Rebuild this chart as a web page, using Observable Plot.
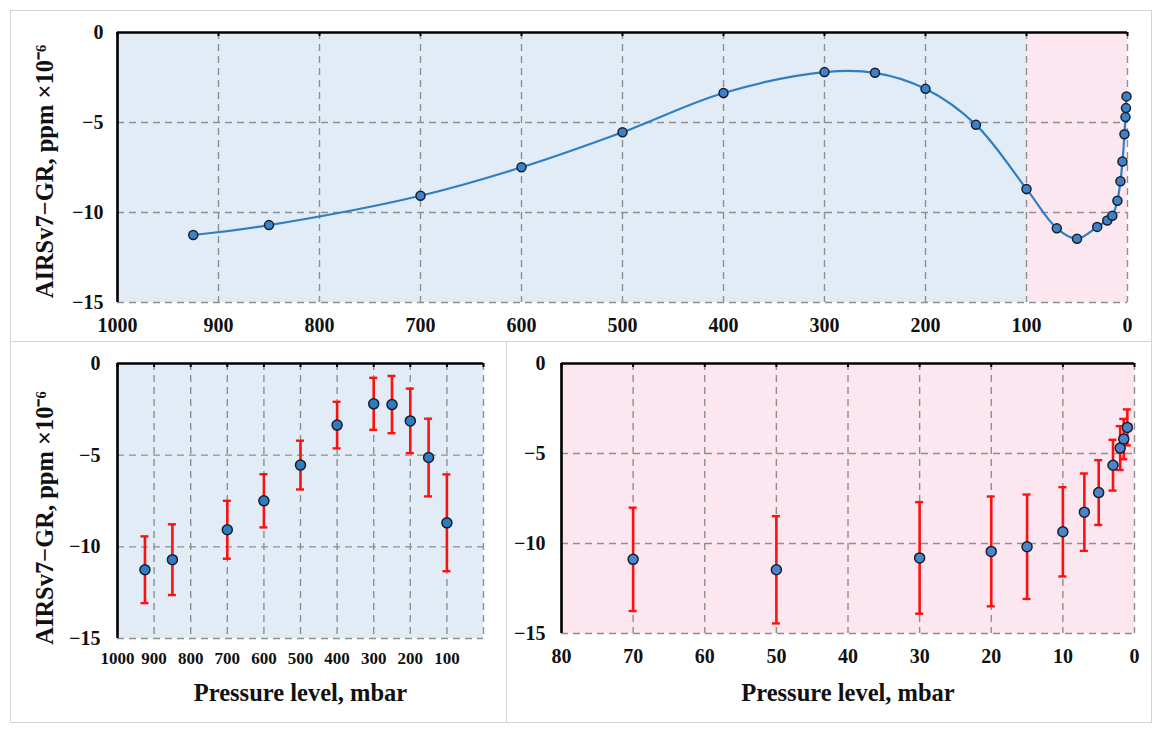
<!DOCTYPE html>
<html><head><meta charset="utf-8">
<script src="https://cdn.jsdelivr.net/npm/d3@7"></script>
<script src="https://cdn.jsdelivr.net/npm/@observablehq/plot@0.6"></script>
<style>
html,body{margin:0;padding:0;background:#fff;}
#wrap{position:relative;width:1160px;height:733px;overflow:hidden;}
#wrap svg{position:absolute;left:0;top:0;}
.box{position:absolute;border:1px solid #d4d4d4;box-sizing:border-box;}
</style></head>
<body><div id="wrap">
<div class="box" style="left:10px;top:10px;width:1142px;height:332px"></div>
<div class="box" style="left:10px;top:341px;width:497px;height:382px"></div>
<div class="box" style="left:506px;top:341px;width:646px;height:382px"></div>
</div>
<script>
// Pressure levels (mbar), AIRSv7 − GR difference (ppm ×10⁻⁶) and its error
const pressure = [925, 850, 700, 600, 500, 400, 300, 250, 200, 150, 100, 70, 50, 30, 20, 15, 10, 7, 5, 3, 2, 1.5, 1];
const diff = [-11.25, -10.7, -9.07, -7.49, -5.54, -3.36, -2.2, -2.24, -3.13, -5.13, -8.69, -10.88, -11.46, -10.8, -10.44, -10.18, -9.35, -8.26, -7.17, -5.65, -4.7, -4.2, -3.55];
const err = [1.82, 1.93, 1.58, 1.45, 1.33, 1.27, 1.42, 1.56, 1.76, 2.12, 2.64, 2.87, 2.98, 3.1, 3.05, 2.9, 2.48, 2.15, 1.8, 1.41, 1.22, 1.12, 1.0];
const yTicks = [0, -5, -10, -15];
const xTicksTop = [1000, 900, 800, 700, 600, 500, 400, 300, 200, 100, 0];
const xTicksLeft = [1000, 900, 800, 700, 600, 500, 400, 300, 200, 100];
const xTicksRight = [80, 70, 60, 50, 40, 30, 20, 10, 0];
const yLabel = "AIRSv7\u2212GR, ppm \u00d710\u207b\u2076";
const xLabel = "Pressure level, mbar";
const regionsTop = [{x1: 1000, x2: 100, layer: "trop"}, {x1: 100, x2: 0, layer: "strat"}];
const regionsLeft = [{x1: 1000, x2: 0, layer: "trop"}];
const regionsRight = [{x1: 80, x2: 0, layer: "strat"}];

const data = pressure.map((p, i) => ({p, v: diff[i], e: err[i]}));
const trop = data.filter(d => d.p >= 100);
const strat = data.filter(d => d.p < 100);

const FONT = "Liberation Serif, Times New Roman, serif";
const fill = {trop: "#e2ecf6", strat: "#fce6ef"};
const fmtY = d => d === 0 ? "0" : "\u2212" + Math.abs(d);
const W = 1160, H = 733;
const GRID = {stroke: "#8f8f8f", strokeOpacity: 1, strokeDasharray: "7,5", strokeWidth: 1.4};

function panel({left, right, top, bottom, xdom, xticks, gridTicks, regions, marks, tickFont, xPad, yPad, yLabelDy, xLabelDy}) {
  return Plot.plot({
    width: W, height: H,
    marginLeft: left, marginRight: W - right, marginTop: top, marginBottom: H - bottom,
    style: {background: "transparent", fontFamily: FONT, fontWeight: "bold", color: "#111"},
    x: {domain: xdom, label: null},
    y: {domain: [-15, 0], label: null},
    marks: [
      Plot.rect(regions, {x1: "x1", x2: "x2", y1: -15, y2: 0, fill: d => fill[d.layer]}),
      Plot.gridX(gridTicks, GRID),
      Plot.gridY([-5, -10, -15], GRID),
      Plot.ruleX([xdom[0]], {stroke: "#000", strokeWidth: 2.6}),
      Plot.ruleY([0], {stroke: "#000", strokeWidth: 2.6}),
      Plot.ruleX(gridTicks, {x: d => d, y1: 0, y2: -0.22, stroke: "#000", strokeWidth: 2}),
      Plot.axisX(xticks, {anchor: "bottom", label: null, tickSize: 0, tickPadding: xPad, fontSize: tickFont, fontWeight: "bold", tickFormat: d => String(d)}),
      Plot.axisY(yTicks, {anchor: "left", label: null, tickSize: 0, tickPadding: yPad, fontSize: 20, fontWeight: "bold", tickFormat: fmtY}),
      ...marks,
      yLabelDy != null ? Plot.text([yLabel], {frameAnchor: "left", textAnchor: "middle", rotate: -90, dx: -72, dy: yLabelDy, fontSize: 24.5, fontWeight: "bold", fill: "#111"}) : null,
      xLabelDy != null ? Plot.text([xLabel], {frameAnchor: "bottom", textAnchor: "middle", dy: xLabelDy, fontSize: 24.5, fontWeight: "bold", fill: "#111"}) : null
    ]
  });
}

function errMarks(d, dotFill) {
  return [
    Plot.ruleX(d, {x: "p", y1: r => r.v - r.e, y2: r => r.v + r.e, stroke: "#ff1010", strokeWidth: 2.6}),
    Plot.ruleY(d, {x1: "p", x2: "p", y: r => r.v - r.e, insetLeft: -4, insetRight: -4, stroke: "#ff1010", strokeWidth: 2.4}),
    Plot.ruleY(d, {x1: "p", x2: "p", y: r => r.v + r.e, insetLeft: -4, insetRight: -4, stroke: "#ff1010", strokeWidth: 2.4}),
    Plot.dot(d, {x: "p", y: "v", r: 5, fill: dotFill, stroke: "#15202e", strokeWidth: 1.5})
  ];
}

const wrap = document.getElementById("wrap");

wrap.appendChild(panel({
  left: 117, right: 1127, top: 32, bottom: 302,
  xdom: [1000, 0], xticks: xTicksTop, gridTicks: xTicksTop, regions: regionsTop,
  tickFont: 20, xPad: 15, yPad: 14, yLabelDy: 4, xLabelDy: null,
  marks: [
    Plot.line(data, {x: "p", y: "v", curve: "catmull-rom", stroke: "#2f7fc1", strokeWidth: 2.2}),
    Plot.dot(data, {x: "p", y: "v", r: 4.5, fill: "#3f80c8", stroke: "#15202e", strokeWidth: 1.5})
  ]
}));

wrap.appendChild(panel({
  left: 117, right: 483, top: 363, bottom: 638,
  xdom: [1000, 0], xticks: xTicksLeft, gridTicks: xTicksTop, regions: regionsLeft,
  tickFont: 17, xPad: 13, yPad: 17, yLabelDy: 17, xLabelDy: 62,
  marks: errMarks(trop, "#2f7cc2")
}));

wrap.appendChild(panel({
  left: 561, right: 1134, top: 363, bottom: 633,
  xdom: [80, 0], xticks: xTicksRight, gridTicks: xTicksRight, regions: regionsRight,
  tickFont: 20, xPad: 15, yPad: 16, yLabelDy: null, xLabelDy: 67,
  marks: errMarks(strat, "#4d84cc")
}));
</script></body></html>
